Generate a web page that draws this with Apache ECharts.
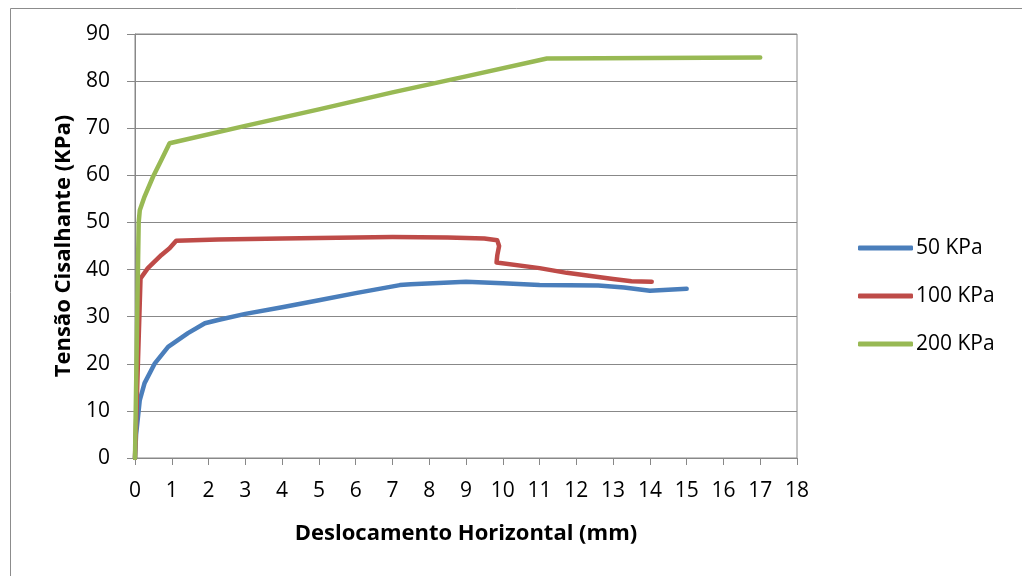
<!DOCTYPE html>
<html>
<head>
<meta charset="utf-8">
<script src="https://cdn.jsdelivr.net/npm/echarts@6/dist/echarts.min.js"></script>
<style>html,body{margin:0;padding:0;background:#fff}#c{width:1022px;height:576px}</style>
</head>
<body>
<div id="c"></div>
<script>
const seriesNames = ['50 KPa', '100 KPa', '200 KPa'];
const x50 = [0, 0.03, 0.13, 0.26, 0.54, 0.9, 1.44, 1.9, 2.26, 3, 4, 5, 6, 7.2, 7.5, 9.0, 10, 11, 12.6, 13.3, 14.0, 15.0];
const y50 = [0, 5, 12.3, 15.9, 20.1, 23.6, 26.5, 28.6, 29.3, 30.6, 32.0, 33.5, 35.0, 36.7, 36.9, 37.4, 37.1, 36.7, 36.6, 36.2, 35.5, 35.9];
const x100 = [0, 0.15, 0.35, 0.72, 0.94, 1.12, 2.26, 4, 7, 8.5, 9.5, 9.85, 9.9, 9.85, 9.83, 11, 11.74, 13, 13.5, 14.05];
const y100 = [0, 38.1, 40.3, 43.1, 44.5, 46.1, 46.4, 46.6, 46.9, 46.8, 46.6, 46.2, 45.0, 43.0, 41.5, 40.3, 39.3, 38.0, 37.5, 37.4];
const x200 = [0, 0.1, 0.13, 0.26, 0.49, 0.72, 0.94, 3, 5, 7, 9, 11.2, 17];
const y200 = [0, 50, 52.6, 55.5, 59.7, 63.3, 66.8, 70.5, 74, 77.6, 81, 84.8, 85.0];
const colors = ['#4A7EBB', '#BE4B48', '#98B954'];

const zip = (xs, ys) => xs.map((v, i) => [v, ys[i]]);
const datasets = [zip(x50, y50), zip(x100, y100), zip(x200, y200)];

const chart = echarts.init(document.getElementById('c'));
const font = '"Open Sans", Lato, sans-serif';
chart.setOption({
  animation: false,
  backgroundColor: '#fff',
  color: colors,
  graphic: [{
    type: 'rect', left: 8, top: 6, z: -1,
    shape: { width: 1100, height: 700 },
    style: { fill: 'none', stroke: '#8c8c8c', lineWidth: 1 }
  }],
  grid: { left: 135, top: 34, width: 662, height: 424, show: true, borderColor: '#888', borderWidth: 1, backgroundColor: 'transparent' },
  legend: {
    orient: 'vertical', left: 853, top: 231, itemGap: 24,
    itemWidth: 55, itemHeight: 5, icon: 'roundRect',
    textStyle: { fontFamily: font, fontSize: 21, color: '#000', lineHeight: 24, padding: [0, 0, 0, -2] },
    data: seriesNames
  },
  xAxis: {
    type: 'value', min: 0, max: 18, interval: 1,
    name: 'Deslocamento Horizontal (mm)', nameLocation: 'middle', nameGap: 65,
    nameTextStyle: { fontFamily: font, fontSize: 22, fontWeight: 'bold', color: '#000' },
    axisLine: { show: true, lineStyle: { color: '#888', width: 1 } },
    axisTick: { show: true, length: 7, lineStyle: { color: '#888' } },
    axisLabel: { fontFamily: font, fontSize: 21, color: '#000', margin: 23 },
    splitLine: { show: false }
  },
  yAxis: {
    type: 'value', min: 0, max: 90, interval: 10,
    name: 'Tensão Cisalhante (KPa)', nameLocation: 'middle', nameGap: 60,
    nameTextStyle: { fontFamily: font, fontSize: 22, fontWeight: 'bold', color: '#000' },
    axisLine: { show: true, lineStyle: { color: '#888', width: 1 } },
    axisTick: { show: true, length: 8, lineStyle: { color: '#888' } },
    axisLabel: { fontFamily: font, fontSize: 21, color: '#000', margin: 25 },
    splitLine: { show: true, lineStyle: { color: '#888', width: 1 } }
  },
  series: seriesNames.map((n, i) => ({
    name: n, type: 'line', data: datasets[i], showSymbol: false, symbol: 'none',
    lineStyle: { width: 4.5, color: colors[i], cap: 'round', join: 'round' },
    itemStyle: { color: colors[i] }
  }))
});
</script>
</body>
</html>
